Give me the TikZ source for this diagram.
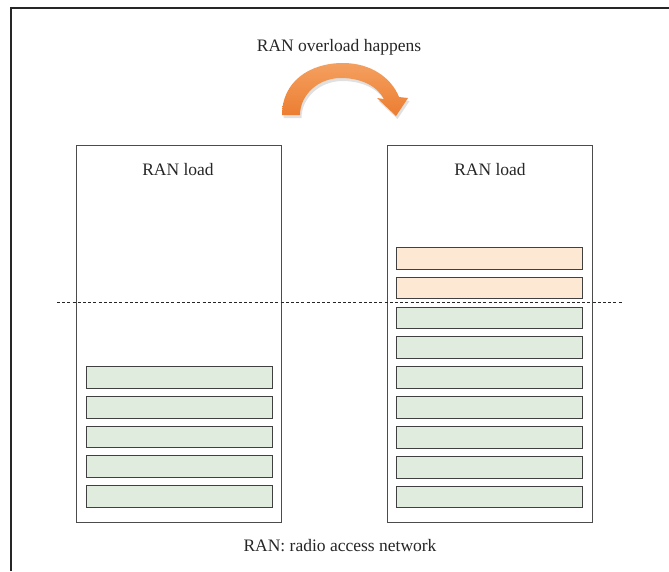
\documentclass[tikz,border=0pt]{standalone}
\usepackage{fontspec}
\setmainfont{Liberation Serif}
\definecolor{loadgreen}{RGB}{224,236,222}
\definecolor{loadorange}{RGB}{253,233,211}
\definecolor{arroworange}{RGB}{236,125,49}
\definecolor{arrowlight}{RGB}{244,160,96}
\begin{document}
\begin{tikzpicture}[x=1pt,y=-1pt,
  label/.style={font=\fontsize{17.5}{20}\selectfont, text=black!85, inner sep=0pt},
  panel/.style={draw=black!70, line width=0.9pt, minimum width=205pt, minimum height=377pt, inner sep=0pt},
  bar/.style={draw=black!75, line width=0.9pt, minimum width=186pt, minimum height=21.7pt, inner sep=0pt},
  greenbar/.style={bar, fill=loadgreen},
  orangebar/.style={bar, fill=loadorange}]
\useasboundingbox (0,0) rectangle (669,571);
% outer frame, cut by the page edge
\draw[black!85, line width=1.3pt] (11,571) -- (11,8) -- (669,8);

% the two RAN load panels
\node[panel] (before) at (178.5,333.5) {};
\node[panel] (after) at (489.5,333.5) {};
\node[label] (titleA) at (178,170) {RAN load};
\node[label] (titleB) at (490,170) {RAN load};

% load before the overload
\foreach \k in {0,...,4}
  \node[greenbar] (b\k) at (179,{377.5+29.65*\k}) {};

% load after the overload
\foreach \k in {0,1}
  \node[orangebar] (a\k) at (489,{258.2+29.85*\k}) {};
\foreach \k in {2,...,8}
  \node[greenbar] (a\k) at (489,{258.2+29.85*\k}) {};

% capacity threshold
\coordinate (thrL) at (57,302);
\coordinate (thrR) at (623,302);
\draw[black!85, line width=0.8pt, dash pattern=on 3pt off 2.2pt] (thrL) -- (thrR);

% curved arrow with soft shadow
\def\arrowpath{(282,115) .. controls (282,82) and (309,63) .. (343,63)
  .. controls (370,63) and (391,77) .. (399,97) -- (408,98) -- (396,116)
  -- (377,98) -- (384,99) .. controls (377,86) and (361,78) .. (341,78)
  .. controls (318,78) and (300,95) .. (300,115) -- cycle}
\fill[black, opacity=0.12, shift={(1.5pt,-3pt)}] \arrowpath;
\shade[top color=arrowlight, bottom color=arroworange] \arrowpath;
\node[label] (event) at (339,47) {RAN overload happens};

\node[label] (legend) at (340,546) {RAN: radio access network};
\end{tikzpicture}
\end{document}
